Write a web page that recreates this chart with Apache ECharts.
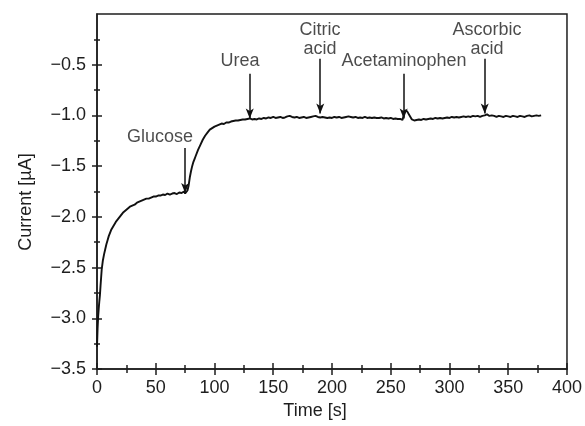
<!DOCTYPE html>
<html>
<head>
<meta charset="utf-8">
<script src="https://cdn.jsdelivr.net/npm/echarts@6/dist/echarts.min.js"></script>
<style>
html,body{margin:0;padding:0;background:#fff;}
#chart{width:585px;height:426px;}
</style>
</head>
<body>
<div id="chart"></div>
<script>
// ---- data ----
const timeS = [0,0.5,1,1.5,2,2.5,3,3.5,4,5,6,7,8,9,10,12,14,16,18,20,22,24,26,28,30,32,34,36,38,40,42,44,46,48,50,52,54,56,58,60,62,64,66,68,70,72,74,75,76,77,78,79,80,81,82,83,84,86,88,90,92,94,96,98,100,102,104,106,108,110,112,114,116,118,120,122,124,126,128,130,132,134,136,138,140,142,144,146,148,150,152,154,156,158,160,162,164,166,168,170,172,174,176,178,180,182,184,186,188,190,192,194,196,198,200,202,204,206,208,210,212,214,216,218,220,222,224,226,228,230,232,234,236,238,240,242,244,246,248,250,252,254,256,258,260,261,262,263,264,266,268,270,272,274,276,278,280,282,284,286,288,290,292,294,296,298,300,302,304,306,308,310,312,314,316,318,320,322,324,326,328,330,332,334,336,338,340,342,344,346,348,350,352,354,356,358,360,362,364,366,368,370,372,374,376,378];
const currentUA = [-3.28,-3.1,-2.98,-2.9,-2.83,-2.77,-2.68,-2.6,-2.52,-2.43,-2.37,-2.32,-2.27,-2.23,-2.19,-2.13,-2.09,-2.05,-2.02,-1.99,-1.96,-1.94,-1.92,-1.9,-1.89,-1.88,-1.86,-1.85,-1.84,-1.83,-1.82,-1.82,-1.81,-1.8,-1.8,-1.79,-1.79,-1.78,-1.785,-1.77,-1.78,-1.77,-1.765,-1.775,-1.76,-1.765,-1.75,-1.77,-1.775,-1.74,-1.69,-1.61,-1.55,-1.5,-1.46,-1.43,-1.4,-1.34,-1.29,-1.24,-1.2,-1.17,-1.14,-1.125,-1.11,-1.1,-1.09,-1.08,-1.085,-1.07,-1.07,-1.06,-1.055,-1.05,-1.05,-1.045,-1.04,-1.04,-1.035,-1.03,-1.04,-1.035,-1.04,-1.03,-1.035,-1.025,-1.03,-1.02,-1.025,-1.015,-1.025,-1.02,-1.015,-1.025,-1.02,-1.01,-1.005,-1.015,-1.02,-1.015,-1.025,-1.02,-1.015,-1.025,-1.02,-1.015,-1.01,-1.005,-1.015,-1.02,-1.015,-1.02,-1.025,-1.02,-1.025,-1.015,-1.02,-1.015,-1.025,-1.02,-1.015,-1.01,-1.015,-1.02,-1.015,-1.025,-1.02,-1.025,-1.015,-1.025,-1.02,-1.025,-1.02,-1.025,-1.025,-1.02,-1.03,-1.025,-1.03,-1.025,-1.035,-1.03,-1.035,-1.035,-1.045,-1.03,-0.95,-0.94,-0.96,-1.0,-1.04,-1.05,-1.045,-1.04,-1.045,-1.035,-1.04,-1.035,-1.03,-1.035,-1.025,-1.03,-1.025,-1.03,-1.025,-1.02,-1.025,-1.015,-1.02,-1.015,-1.02,-1.015,-1.01,-1.015,-1.01,-1.015,-1.005,-1.01,-1.005,-1.015,-1.005,-1.0,-0.99,-1.005,-1.0,-1.005,-1.015,-1.005,-1.01,-1.015,-1.005,-1.01,-1.015,-1.005,-1.01,-1.015,-1.005,-1.01,-1.015,-1.005,-1.0,-1.01,-1.005,-1.0,-1.005,-1.0];

const xMajorTicks = [0,50,100,150,200,250,300,350,400];
const xMinorTicks = [25,75,125,175,225,275,325,375];
const yMajorTicks = [-3.5,-3.0,-2.5,-2.0,-1.5,-1.0,-0.5];
const yMinorTicks = [-3.25,-2.75,-2.25,-1.75,-1.25,-0.75,-0.25];

const annotNames = ['Glucose','Urea','Citric\nacid','Acetaminophen','Ascorbic\nacid'];
const annotTime = [75,130,190,261,330];
const arrowTop = [-1.32,-0.59,-0.44,-0.59,-0.44];
const arrowTip = [-1.765,-1.03,-0.98,-1.03,-0.98];
const labelTime = [53.6,121.7,189.8,261.3,331.9];
const labelVal = [-1.216,-0.461,-0.25,-0.461,-0.25];

// ---- chart ----
const FONT = '"Liberation Sans", Arial, sans-serif';
const INK = '#1e1e1e';
const chart = echarts.init(document.getElementById('chart'), null, {renderer:'canvas'});

function xAx(ticks, len, inside, withLabel){
  return {
    type:'value', min:0, max:400, interval:50, position:'bottom',
    axisLine:{show:withLabel, onZero:false, lineStyle:{color:INK, width:1.5}},
    axisTick:{show:true, customValues:ticks, length:len, inside:inside, lineStyle:{color:INK, width:1.5}},
    axisLabel:withLabel ? {show:true, customValues:xMajorTicks, fontFamily:FONT, fontSize:18, color:INK, margin:10} : {show:false},
    splitLine:{show:false},
    name: withLabel ? 'Time [s]' : '',
    nameLocation:'middle', nameGap:30,
    nameTextStyle:{fontFamily:FONT, fontSize:18, color:INK, padding:[0,34,0,0]}
  };
}
function yAx(ticks, len, inside, withLabel){
  return {
    type:'value', min:-3.5, max:0, interval:0.5, position:'left',
    axisLine:{show:withLabel, onZero:false, lineStyle:{color:INK, width:1.5}},
    axisTick:{show:true, customValues:ticks, length:len, inside:inside, lineStyle:{color:INK, width:1.5}},
    axisLabel:withLabel ? {show:true, customValues:yMajorTicks, fontFamily:FONT, fontSize:18, color:INK, margin:11,
      formatter:v=>v.toFixed(1).replace('-', '\u2212')} : {show:false},
    splitLine:{show:false},
    name: withLabel ? 'Current [\u00b5A]' : '',
    nameLocation:'middle', nameGap:62,
    nameTextStyle:{fontFamily:FONT, fontSize:18, color:INK, padding:[0,21,0,0]}
  };
}

const lineData = timeS.map((t,i)=>[t, currentUA[i]]);
const labelData = annotNames.map((n,i)=>({value:[labelTime[i], labelVal[i]], name:n}));
const arrowData = annotNames.map((n,i)=>[{coord:[annotTime[i], arrowTop[i]]},{coord:[annotTime[i], arrowTip[i]]}]);

chart.setOption({
  animation:false,
  backgroundColor:'#fff',
  grid:{left:97, right:18, top:14, bottom:57, show:true, borderColor:INK, borderWidth:1.5, containLabel:false},
  xAxis:[xAx(xMajorTicks,6,false,true), xAx(xMajorTicks,6,true,false), xAx(xMinorTicks,4,false,false), xAx(xMinorTicks,4,true,false)],
  yAxis:[yAx(yMajorTicks,5,false,true), yAx(yMajorTicks,5,true,false), yAx(yMinorTicks,3,false,false), yAx(yMinorTicks,3,true,false)],
  series:[
    {
      type:'line', data:lineData, showSymbol:false, symbol:'none', smooth:false,
      lineStyle:{color:'#111', width:1.9},
      markLine:{
        silent:true, symbol:['none','arrow'], symbolSize:[6,10],
        lineStyle:{color:'#111', width:1.5, type:'solid'},
        label:{show:false},
        data:arrowData
      }
    },
    {
      type:'scatter', data:labelData, symbolSize:1, itemStyle:{color:'rgba(0,0,0,0)'},
      label:{show:true, position:'inside', formatter:p=>p.name, fontFamily:FONT, fontSize:18, lineHeight:19, color:INK, align:'center', verticalAlign:'middle'},
      silent:true
    }
  ]
});
</script>
</body>
</html>
